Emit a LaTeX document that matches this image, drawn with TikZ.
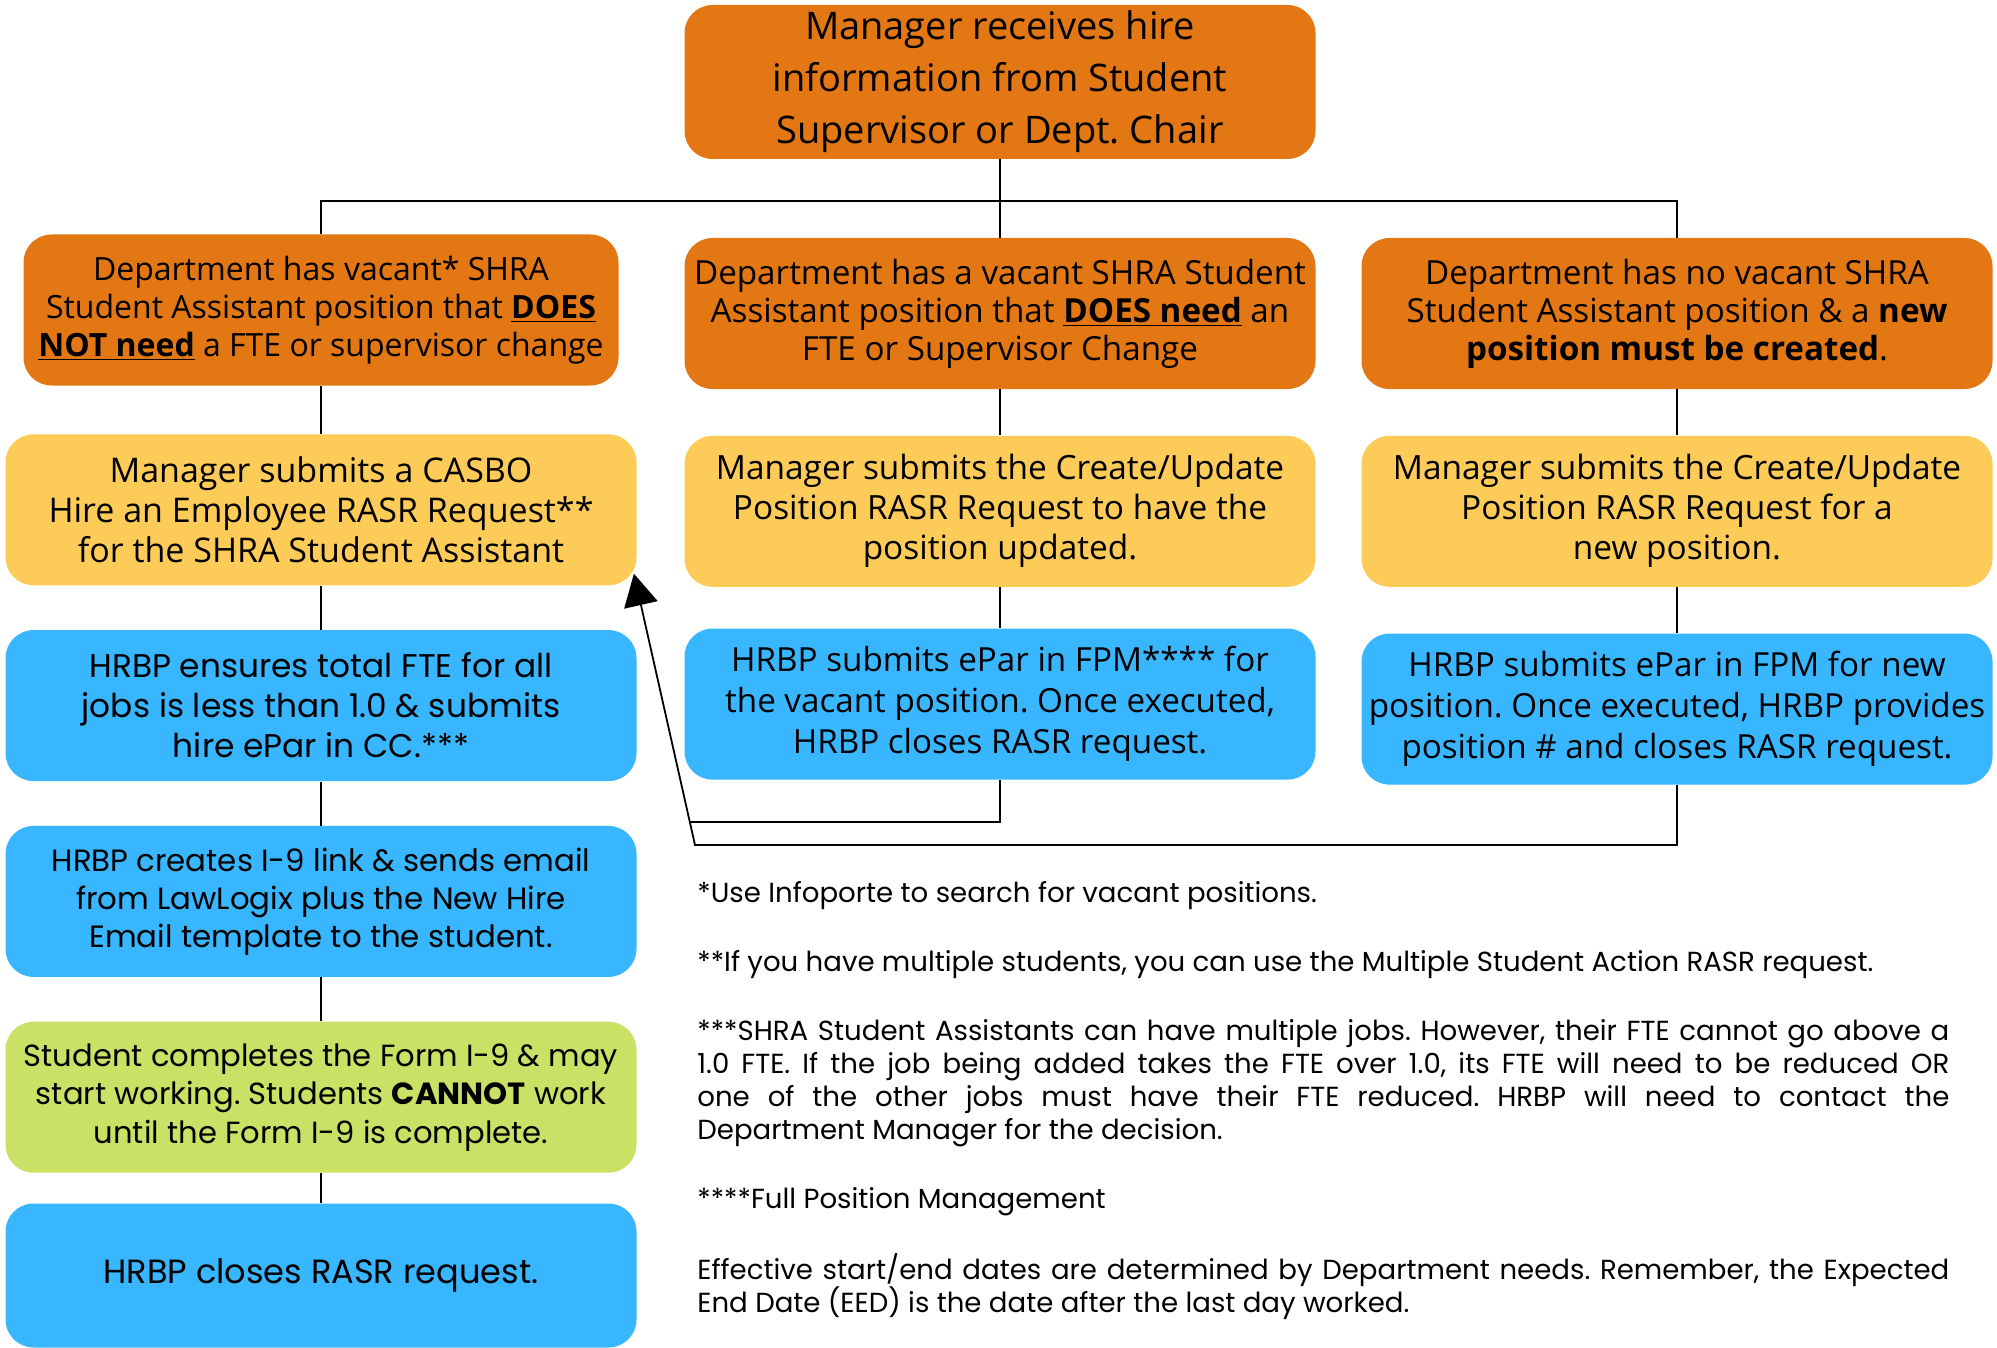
\documentclass[tikz,border=0pt]{standalone}
\usepackage{fontspec}
\setmainfont{Open Sans}
\newfontfamily\canvasans{Poppins}
\usetikzlibrary{positioning,calc,arrows.meta}

\definecolor{hireorange}{HTML}{E27714}
\definecolor{askyellow}{HTML}{FDCB58}
\definecolor{hrbpblue}{HTML}{38B6FF}
\definecolor{formgreen}{HTML}{C9E265}

\tikzset{
  box/.style={rounded corners=14pt, align=center, inner sep=0pt, minimum width=315.5pt, minimum height=75.5pt},
  hirebox/.style={box, fill=hireorange, minimum height=77pt, font=\fontsize{19}{26}\selectfont},
  deptbox/.style={box, fill=hireorange, font=\fontsize{16.6}{19}\selectfont},
  askbox/.style={box, fill=askyellow, font=\fontsize{16.7}{20}\selectfont},
  entbox/.style={box, fill=hrbpblue, font=\fontsize{16.6}{20.5}\selectfont},
  lawbox/.style={box, fill=hrbpblue, font=\canvasans\fontsize{15.4}{19}\selectfont},
  formbox/.style={box, fill=formgreen, font=\canvasans\fontsize{15.3}{19.25}\selectfont},
  notes/.style={text width=626pt, align=justify, inner sep=0pt, font=\canvasans\fontsize{13.8}{16.5}\selectfont},
  wire/.style={line width=0.9pt}
}

\begin{document}
\frenchspacing
\begin{tikzpicture}[x=0.5pt, y=-0.5pt]
    \useasboundingbox (0,0) rectangle (1997,1348);
    \node[hirebox] (hire) at (1000,82) {Manager receives hire\\information from Student\\Supervisor or Dept. Chair};
    \node[deptbox, minimum width=297.5pt, font=\fontsize{16}{19}\selectfont] (vacA) at (321,310) {Department has vacant* SHRA\\Student Assistant position that \underline{\textbf{DOES}}\\\underline{\textbf{NOT need}} a FTE or supervisor change};
    \node[deptbox] (vacB) at (1000,313.5) {Department has a vacant SHRA Student\\Assistant position that \underline{\textbf{DOES need}} an\\FTE or Supervisor Change};
    \node[deptbox] (vacC) at (1677,313.5) {Department has no vacant SHRA\\Student Assistant position \& a \textbf{new}\\\textbf{position must be created}.};
    \node[askbox, below=24pt of vacA, font=\fontsize{17}{20}\selectfont] (askA) {Manager submits a CASBO\\Hire an Employee RASR Request**\\for the SHRA Student Assistant};
    \node[askbox, below=23pt of vacB] (askB) {Manager submits the Create/Update\\Position RASR Request to have the\\position updated.};
    \node[askbox, below=23pt of vacC] (askC) {Manager submits the Create/Update\\Position RASR Request for a\\new position.};
    \node[lawbox, below=22pt of askA, font=\canvasans\fontsize{16.4}{20}\selectfont] (entA) {HRBP ensures total FTE for all\\jobs is less than 1.0 \& submits\\hire ePar in CC.***};
    \node[entbox, below=20.5pt of askB] (entB) {HRBP submits ePar in FPM**** for\\the vacant position. Once executed,\\HRBP closes RASR request.};
    \node[entbox, below=23pt of askC] (entC) {HRBP submits ePar in FPM for new\\position. Once executed, HRBP provides\\position \# and closes RASR request.};
    \node[lawbox, below=22pt of entA] (lawlogix) {HRBP creates I-9 link \& sends email\\from LawLogix plus the New Hire\\Email template to the student.};
    \node[formbox, below=22pt of lawlogix] (form) {Student completes the Form I-9 \& may\\start working. Students \textbf{CANNOT} work\\until the Form I-9 is complete.};
    \node[lawbox, below=15pt of form, minimum height=72pt, font=\canvasans\fontsize{16.8}{19}\selectfont] (close) {HRBP closes RASR request.};

    \coordinate (split) at (1000,201);
    \draw[wire] (hire) -- (split);
    \draw[wire] (vacA) |- (split) -| (vacC);
    \draw[wire] (split) -- (vacB);
    \foreach \a/\b in {vacA/askA, askA/entA, entA/lawlogix, lawlogix/form, form/close, vacB/askB, askB/entB, vacC/askC, askC/entC}
        \draw[wire] (\a) -- (\b);

    \coordinate (foot) at (695,845);
    \coordinate (tip) at ($(askA.south east)+(-1.5pt,6pt)$);
    \draw[wire, -{Triangle[length=16pt,width=17pt]}] (entC) |- (foot) -- (tip);
    \draw[wire] (entB) |- ($(foot)!0.085!(tip)$);

    \node[notes, anchor=north west] (notes) at (697,881) {*Use Infoporte to search for vacant positions.\\[18pt]
        **If you have multiple students, you can use the Multiple Student Action RASR request.\\[18pt]
        ***SHRA Student Assistants can have multiple jobs. However, their FTE cannot go above a\linebreak
        1.0 FTE. If the job being added takes the FTE over 1.0, its FTE will need to be reduced OR\linebreak
        one of the other jobs must have their FTE reduced. HRBP will need to contact the\linebreak
        Department Manager for the decision.\\[18pt]
        ****Full Position Management\\[18pt]
        Effective start/end dates are determined by Department needs. Remember, the Expected\linebreak
        End Date (EED) is the date after the last day worked.};
\end{tikzpicture}
\end{document}
